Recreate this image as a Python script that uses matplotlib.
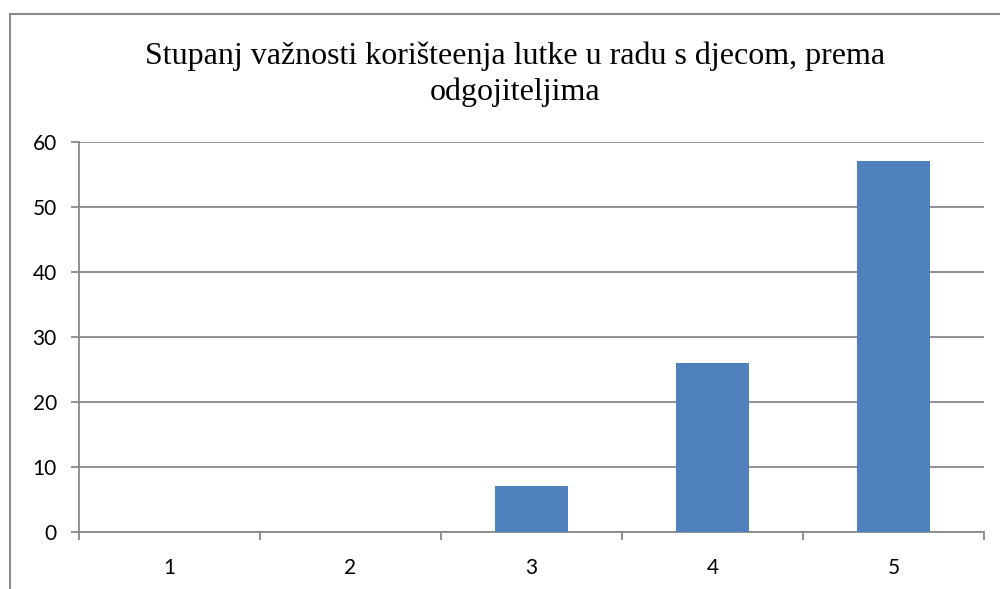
import matplotlib
matplotlib.use("Agg")
from matplotlib import pyplot as plt
from matplotlib.lines import Line2D
import numpy as np

categories = ["1", "2", "3", "4", "5"]
values = [0, 0, 7, 26, 57]
y_ticks = [0, 10, 20, 30, 40, 50, 60]
title = "Stupanj važnosti korišteenja lutke u radu s djecom, prema\nodgojiteljima"

grid_color = "#898989"
bar_color = "#4F81BD"

fig = plt.figure(figsize=(10, 5.89), dpi=100)
ax = fig.add_axes([0.079, 0.0968, 0.905, 0.6622])

x = np.arange(len(categories))
ax.bar(x, values, width=0.4, color=bar_color, zorder=3)

ax.set_xlim(-0.5, len(categories) - 0.5)
ax.set_ylim(0, 60)
ax.set_yticks(y_ticks)
ax.set_xticks(x)
ax.set_xticklabels(categories)
ax.set_xticks(np.arange(len(categories) + 1) - 0.5, minor=True)

ax.yaxis.grid(True, color=grid_color, linewidth=1.3, zorder=0)
for side in ["top", "right"]:
    ax.spines[side].set_visible(False)
for side in ["left", "bottom"]:
    ax.spines[side].set_color(grid_color)
    ax.spines[side].set_linewidth(1.3)

ax.tick_params(axis="y", length=6, width=1.3, color=grid_color, pad=10,
               labelsize=15, labelcolor="black")
ax.tick_params(axis="x", which="major", length=0, pad=19, labelsize=15)
ax.tick_params(axis="x", which="minor", length=6, width=1.3, color=grid_color)
for lab in ax.get_xticklabels() + ax.get_yticklabels():
    lab.set_fontfamily("Lato")

fig.text(0.515, 0.93, title, ha="center", va="top", fontsize=23,
         family="Liberation Serif", linespacing=1.3)

# chart frame (cropped at right and bottom)
fig.add_artist(Line2D([0.010, 1.0], [1 - 14 / 589, 1 - 14 / 589],
                      transform=fig.transFigure, color=grid_color, linewidth=1.5))
fig.add_artist(Line2D([0.010, 0.010], [0.0, 1 - 14 / 589],
                      transform=fig.transFigure, color=grid_color, linewidth=1.5))

plt.savefig("out.png", dpi=100)
plt.close()
